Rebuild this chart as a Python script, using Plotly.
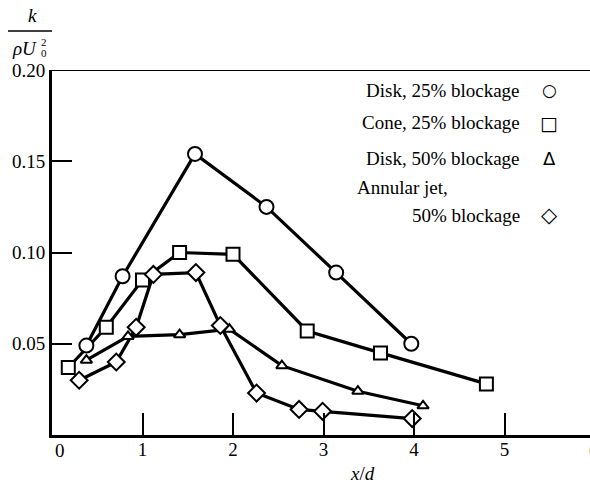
import plotly.graph_objects as go

# Turbulent kinetic energy k/(rho U0^2) versus downstream distance x/d
disk25_x = [0.38, 0.78, 1.58, 2.37, 3.14, 3.97]
disk25_y = [0.049, 0.087, 0.154, 0.125, 0.089, 0.050]

cone25_x = [0.18, 0.60, 1.00, 1.41, 2.00, 2.82, 3.63, 4.80]
cone25_y = [0.037, 0.059, 0.085, 0.100, 0.099, 0.057, 0.045, 0.028]

disk50_x = [0.38, 0.84, 1.41, 1.96, 2.54, 3.38, 4.10]
disk50_y = [0.041, 0.054, 0.055, 0.058, 0.038, 0.024, 0.016]

annular_x = [0.30, 0.71, 0.93, 1.12, 1.59, 1.86, 2.26, 2.73, 2.99, 3.98]
annular_y = [0.030, 0.040, 0.059, 0.088, 0.089, 0.060, 0.023, 0.014, 0.013, 0.009]

x_ticks = [1, 2, 3, 4, 5]
y_ticks = [0.05, 0.10, 0.15, 0.20]
y_tick_text = ["0.05", "0.10", "0.15", "0.20"]

legend_rows = [
    ("Disk, 25% blockage", "○", "DejaVu Sans", 17),
    ("Cone, 25% blockage", "□", "DejaVu Sans", 19),
    ("Disk, 50% blockage", "Δ", "DejaVu Sans", 18),
    ("Annular jet,", "", "", 0),
    ("50% blockage", "◇", "DejaVu Sans", 21),
]

SERIF = "Liberation Serif"
W, H = 590, 487
ML, MR, MT, MB = 52, 0, 70, 52
PW, PH = W - ML - MR, H - MT - MB


def px_to_paper(px, py):
    return (px - ML) / PW, (H - MB - py) / PH


series = [
    (disk25_x, disk25_y, "circle", 14),
    (cone25_x, cone25_y, "square", 13),
    (disk50_x, disk50_y, "triangle-up", 10),
    (annular_x, annular_y, "diamond", 13),
]

fig = go.Figure()
for xs, ys, sym, size in series:
    fig.add_trace(go.Scatter(
        x=xs, y=ys, mode="lines",
        line=dict(color="black", width=3.2),
        showlegend=False, hoverinfo="skip", cliponaxis=False,
    ))
for xs, ys, sym, size in series:
    fig.add_trace(go.Scatter(
        x=xs, y=ys, mode="markers",
        marker=dict(symbol=sym, size=size, color="white",
                    line=dict(color="black", width=2)),
        showlegend=False, cliponaxis=False,
    ))

x_max = PW / 90.5

fig.update_layout(
    width=W, height=H,
    margin=dict(l=ML, r=MR, t=MT, b=MB),
    plot_bgcolor="white", paper_bgcolor="white",
    font=dict(family=SERIF, size=19, color="black"),
    xaxis=dict(
        range=[0, x_max], tickvals=x_ticks, ticktext=[str(v) for v in x_ticks],
        ticks="inside", ticklen=22, tickwidth=1.5, tickcolor="black",
        ticklabelstandoff=-5,
        showline=True, linewidth=3, linecolor="black",
        showgrid=False, zeroline=False, tickfont=dict(size=19),
    ),
    yaxis=dict(
        range=[0, 0.2], tickvals=y_ticks, ticktext=y_tick_text,
        ticks="inside", ticklen=20, tickwidth=1.5, tickcolor="black",
        showline=True, linewidth=3, linecolor="black",
        showgrid=False, zeroline=False, tickfont=dict(size=19),
    ),
    showlegend=False,
)

# top frame line at k/(rho U0^2) = 0.20
fig.add_shape(type="line", xref="paper", yref="y", x0=0, x1=1, y0=0.2, y1=0.2,
              line=dict(color="black", width=2))

ann = []
# extra x tick labels at the ends of the axis
for label, px in (("0", 60), ("6", 594)):
    xp, yp = px_to_paper(px, 450)
    ann.append(dict(text=label, x=xp, y=yp, xanchor="center", yanchor="middle",
                    font=dict(size=19)))

# axis titles
xp, yp = px_to_paper(362, 474)
ann.append(dict(text="<i>x</i>/<i>d</i>", x=xp, y=yp, xanchor="center",
                yanchor="middle", font=dict(size=19)))
xp, yp = px_to_paper(32, 16)
ann.append(dict(text="<i>k</i>", x=xp, y=yp, xanchor="center", yanchor="middle",
                font=dict(size=19)))
xp, yp = px_to_paper(39, 49)
ann.append(dict(text="<i>ρU</i>", x=xp, y=yp, xanchor="right", yanchor="middle",
                font=dict(size=19)))
xp, yp = px_to_paper(39, 42)
ann.append(dict(text="2", x=xp, y=yp, xanchor="left", yanchor="middle",
                font=dict(size=11)))
xp, yp = px_to_paper(39, 53)
ann.append(dict(text="0", x=xp, y=yp, xanchor="left", yanchor="middle",
                font=dict(size=11)))
x0p, yfp = px_to_paper(8, 31)
x1p, _ = px_to_paper(52, 31)
fig.add_shape(type="line", xref="paper", yref="paper", x0=x0p, x1=x1p,
              y0=yfp, y1=yfp, line=dict(color="black", width=1.5))

# key, text right-aligned with the symbol to its right
row_y = [90, 123, 158, 187, 215]
for (label, sym, sym_font, sym_size), py in zip(legend_rows, row_y):
    if sym:
        xp, yp = px_to_paper(522, py)
        ann.append(dict(text=label, x=xp, y=yp, xanchor="right", yanchor="middle",
                        font=dict(size=19)))
        xp, yp = px_to_paper(549, py)
        ann.append(dict(text=sym, x=xp, y=yp, xanchor="center", yanchor="middle",
                        font=dict(family=sym_font, size=sym_size)))
    else:
        xp, yp = px_to_paper(355, py)
        ann.append(dict(text=label, x=xp, y=yp, xanchor="left", yanchor="middle",
                        font=dict(size=19)))

for a in ann:
    a.update(xref="paper", yref="paper", showarrow=False)
fig.update_layout(annotations=ann)

fig.write_html("out.html")
